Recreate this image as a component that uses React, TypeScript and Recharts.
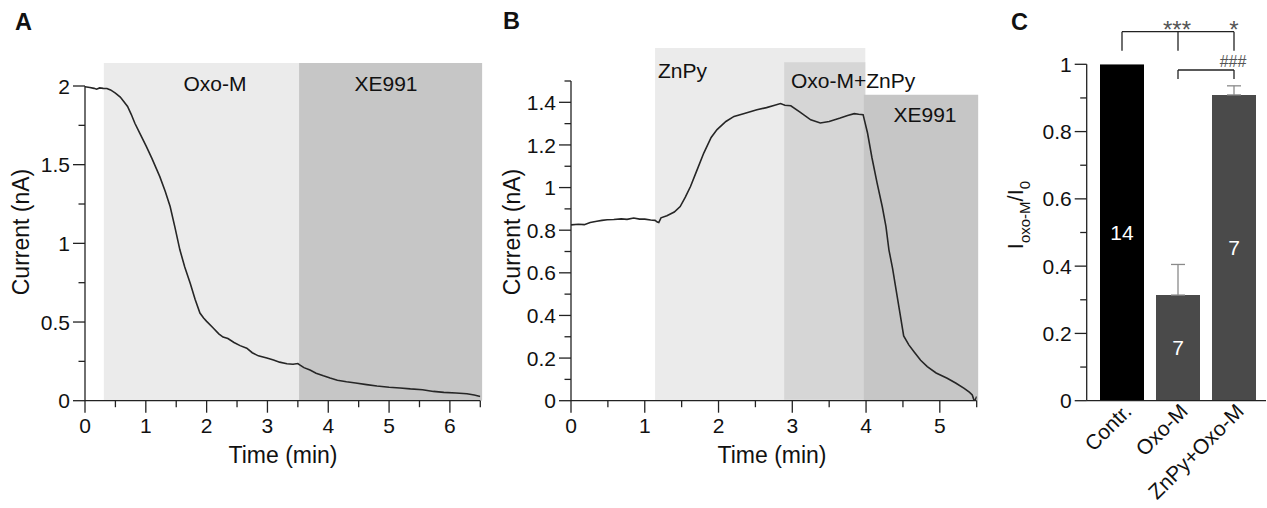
import React from "react";
import {
  LineChart,
  Line,
  BarChart,
  Bar,
  Cell,
  ErrorBar,
  LabelList,
  XAxis,
  YAxis,
  ReferenceArea,
  ReferenceLine,
} from "recharts";

const FONT = "'Liberation Sans', Arial, Helvetica, sans-serif";
const INK = "#222";

// Panel A: Oxo-M then XE991
const timeA = [
  0, 0.08, 0.15, 0.19, 0.24, 0.3, 0.36, 0.42, 0.5, 0.58, 0.65, 0.7, 0.76, 0.82,
  0.9, 1.01, 1.1, 1.23, 1.32, 1.4, 1.48, 1.56, 1.64, 1.73, 1.81, 1.89, 1.95, 2.0,
  2.1, 2.2, 2.27, 2.35, 2.45, 2.55, 2.66, 2.75, 2.85, 2.99, 3.1, 3.2, 3.32, 3.42,
  3.5, 3.53, 3.6, 3.7, 3.8, 3.92, 4.03, 4.15, 4.3, 4.45, 4.63, 4.8, 5.0, 5.18,
  5.35, 5.55, 5.73, 5.9, 6.1, 6.28, 6.4, 6.5,
];
const currentA = [
  1.995, 1.99, 1.985, 1.98, 1.988, 1.985, 1.984, 1.975, 1.955, 1.93, 1.895,
  1.87, 1.82, 1.763, 1.7, 1.615, 1.54, 1.424, 1.33, 1.234, 1.1, 0.959, 0.85,
  0.747, 0.645, 0.557, 0.525, 0.504, 0.465, 0.425, 0.404, 0.395, 0.37, 0.35,
  0.334, 0.305, 0.285, 0.271, 0.258, 0.245, 0.235, 0.232, 0.236, 0.228, 0.21,
  0.195, 0.175, 0.158, 0.144, 0.13, 0.12, 0.112, 0.102, 0.093, 0.085, 0.081,
  0.075, 0.07, 0.059, 0.053, 0.049, 0.044, 0.036, 0.027,
];

// Panel B: ZnPy, Oxo-M+ZnPy, XE991
const timeB = [
  0, 0.1, 0.18, 0.26, 0.35, 0.42, 0.49, 0.58, 0.68, 0.76, 0.85, 0.93, 1.0, 1.08,
  1.14, 1.17, 1.19, 1.22, 1.3, 1.4, 1.48, 1.55, 1.62, 1.7, 1.8, 1.9, 1.98, 2.1,
  2.21, 2.35, 2.52, 2.65, 2.75, 2.84, 2.9, 2.98, 3.1, 3.25, 3.38, 3.5, 3.65,
  3.75, 3.84, 3.9, 3.96, 4.02, 4.08, 4.15, 4.22, 4.27, 4.31, 4.36, 4.4, 4.46,
  4.51, 4.58, 4.65, 4.74, 4.83, 4.95, 5.1, 5.22, 5.33, 5.4, 5.44, 5.47, 5.5,
];
const currentB = [
  0.825, 0.828, 0.826, 0.836, 0.842, 0.846, 0.849, 0.85, 0.853, 0.851, 0.857,
  0.852, 0.852, 0.848, 0.846, 0.838, 0.836, 0.858, 0.868, 0.885, 0.911, 0.955,
  1.005, 1.075, 1.162, 1.235, 1.272, 1.31, 1.334, 1.348, 1.365, 1.375, 1.385,
  1.394, 1.386, 1.384, 1.355, 1.318, 1.303, 1.31, 1.326, 1.338, 1.347, 1.344,
  1.342, 1.256, 1.14, 1.021, 0.91, 0.817, 0.708, 0.62, 0.535, 0.41, 0.304,
  0.262, 0.23, 0.19, 0.16, 0.13, 0.105, 0.082, 0.058, 0.04, 0.027, -0.005, 0.02,
];

// Panel C: normalised current
const groups = ["Contr.", "Oxo-M", "ZnPy+Oxo-M"];
const ratios = [1.0, 0.314, 0.909];
const sems = [null, 0.091, 0.027];
const cellCounts = [14, 7, 7];
const barColors = ["#000000", "#4a4a4a", "#4a4a4a"];

// ticks
const xTicksA = [0, 0.5, 1, 1.5, 2, 2.5, 3, 3.5, 4, 4.5, 5, 5.5, 6, 6.5];
const yTicksA = [0, 0.25, 0.5, 0.75, 1, 1.25, 1.5, 1.75, 2];
const xTicksB = [0, 0.5, 1, 1.5, 2, 2.5, 3, 3.5, 4, 4.5, 5, 5.5];
const yTicksB = [0, 0.1, 0.2, 0.3, 0.4, 0.5, 0.6, 0.7, 0.8, 0.9, 1, 1.1, 1.2, 1.3, 1.4, 1.5];
const yTicksC = [0, 0.1, 0.2, 0.3, 0.4, 0.5, 0.6, 0.7, 0.8, 0.9, 1];

const dataA = timeA.map((t, i) => ({ t, v: currentA[i] }));
const dataB = timeB.map((t, i) => ({ t, v: currentB[i] }));
const dataC = groups.map((name, i) => ({
  name,
  mean: ratios[i],
  err: sems[i] == null ? null : [0, sems[i]],
  n: cellCounts[i],
}));

const near = (a: number, b: number) => Math.abs(a - b) < 1e-6;

const makeXTick = (isMajor: (v: number) => boolean) => (props: any) => {
  const { x, y, payload } = props;
  const v = payload.value;
  const major = isMajor(v);
  return (
    <g>
      <line x1={x} y1={y} x2={x} y2={y + (major ? 12 : 6.5)} stroke={INK} strokeWidth={1.3} />
      {major && (
        <text x={x} y={y + 32} textAnchor="middle" fontSize={21} fontFamily={FONT} fill="#111">
          {v}
        </text>
      )}
    </g>
  );
};

const makeYTick = (isMajor: (v: number) => boolean) => (props: any) => {
  const { x, y, payload } = props;
  const v = payload.value;
  const major = isMajor(v);
  return (
    <g>
      <line x1={x} y1={y} x2={x - (major ? 12 : 6.5)} y2={y} stroke={INK} strokeWidth={1.3} />
      {major && (
        <text x={x - 15} y={y} dy="0.36em" textAnchor="end" fontSize={21} fontFamily={FONT} fill="#111">
          {v}
        </text>
      )}
    </g>
  );
};

const intMajor = (v: number) => near(v, Math.round(v));
const halfMajor = (v: number) => near(v * 2, Math.round(v * 2));
const fifthMajor = (v: number) => near(v * 5, Math.round(v * 5));

const CatTick = (props: any) => {
  const { x, y, payload } = props;
  return (
    <text
      transform={`translate(${x + 11},${y + 12}) rotate(-45)`}
      textAnchor="end"
      fontSize={21}
      fontFamily={FONT}
      fill="#111"
    >
      {payload.value}
    </text>
  );
};

const axisLine = { stroke: INK, strokeWidth: 1.3 };

function PanelA() {
  return (
    <LineChart width={500} height={508} data={dataA} margin={{ top: 86, right: 19.7, bottom: 47.3, left: 0 }}>
      <ReferenceArea x1={0.31} x2={3.52} y1={0} y2={2.146} fill="#ebebeb" fillOpacity={1} stroke="none" ifOverflow="visible" />
      <ReferenceArea x1={3.52} x2={6.53} y1={0} y2={2.146} fill="#c6c6c6" fillOpacity={1} stroke="none" ifOverflow="visible" />
      <XAxis
        dataKey="t"
        type="number"
        domain={[0, 6.5]}
        ticks={xTicksA}
        interval={0}
        allowDataOverflow
        height={60}
        tickSize={0}
        tickMargin={0}
        tickLine={false}
        axisLine={axisLine}
        tick={makeXTick(intMajor)}
      />
      <YAxis
        type="number"
        domain={[0, 2]}
        ticks={yTicksA}
        interval={0}
        allowDataOverflow
        width={85}
        tickSize={0}
        tickMargin={0}
        tickLine={false}
        axisLine={axisLine}
        tick={makeYTick(halfMajor)}
      />
      <Line dataKey="v" type="linear" stroke="#262626" strokeWidth={1.6} dot={false} isAnimationActive={false} />
    </LineChart>
  );
}

function PanelB() {
  return (
    <LineChart width={500} height={508} data={dataB} margin={{ top: 81, right: 13.3, bottom: 47.3, left: 0 }}>
      <ReferenceArea x1={1.14} x2={3.99} y1={0} y2={1.655} fill="#ebebeb" fillOpacity={1} stroke="none" ifOverflow="visible" />
      <ReferenceArea x1={2.89} x2={3.99} y1={0.005} y2={1.588} fill="#d6d6d6" fillOpacity={1} stroke="none" ifOverflow="visible" />
      <ReferenceArea x1={3.97} x2={5.52} y1={0} y2={1.436} fill="#c6c6c6" fillOpacity={1} stroke="none" ifOverflow="visible" />
      <XAxis
        dataKey="t"
        type="number"
        domain={[0, 5.5]}
        ticks={xTicksB}
        interval={0}
        allowDataOverflow
        height={60}
        tickSize={0}
        tickMargin={0}
        tickLine={false}
        axisLine={axisLine}
        tick={makeXTick(intMajor)}
      />
      <YAxis
        type="number"
        domain={[0, 1.5]}
        ticks={yTicksB}
        interval={0}
        allowDataOverflow
        width={81}
        tickSize={0}
        tickMargin={0}
        tickLine={false}
        axisLine={axisLine}
        tick={makeYTick((v) => fifthMajor(v) && v < 1.45)}
      />
      <Line dataKey="v" type="linear" stroke="#262626" strokeWidth={1.6} dot={false} isAnimationActive={false} />
    </LineChart>
  );
}

function PanelC() {
  const bracket = { stroke: INK, strokeWidth: 1.3, ifOverflow: "visible" as const };
  return (
    <BarChart width={277} height={508} data={dataC} margin={{ top: 64.3, right: 1, bottom: 47.3, left: 0 }}>
      <XAxis
        dataKey="name"
        type="category"
        padding={{ left: 7.3, right: 4 }}
        interval={0}
        height={60}
        tickSize={0}
        tickMargin={0}
        tickLine={false}
        axisLine={axisLine}
        tick={CatTick}
      />
      <YAxis
        type="number"
        domain={[0, 1]}
        ticks={yTicksC}
        interval={0}
        allowDataOverflow
        width={96.7}
        tickSize={0}
        tickMargin={0}
        tickLine={false}
        axisLine={axisLine}
        tick={makeYTick(fifthMajor)}
      />
      <Bar dataKey="mean" barSize={44} isAnimationActive={false}>
        {dataC.map((d, i) => (
          <Cell key={d.name} fill={barColors[i]} />
        ))}
        <ErrorBar dataKey="err" width={7} stroke="#8a8a8a" strokeWidth={1.3} direction="y" />
        <LabelList dataKey="n" position="center" fill="#ffffff" fontSize={21} fontFamily={FONT} />
      </Bar>
      <ReferenceLine segment={[{ x: groups[0], y: 1.097 }, { x: groups[2], y: 1.097 }]} {...bracket} />
      <ReferenceLine segment={[{ x: groups[0], y: 1.04 }, { x: groups[0], y: 1.097 }]} {...bracket} />
      <ReferenceLine segment={[{ x: groups[1], y: 1.04 }, { x: groups[1], y: 1.097 }]} {...bracket} />
      <ReferenceLine segment={[{ x: groups[2], y: 1.04 }, { x: groups[2], y: 1.097 }]} {...bracket} />
      <ReferenceLine segment={[{ x: groups[1], y: 0.983 }, { x: groups[2], y: 0.983 }]} {...bracket} />
      <ReferenceLine segment={[{ x: groups[1], y: 0.956 }, { x: groups[1], y: 0.983 }]} {...bracket} />
      <ReferenceLine segment={[{ x: groups[2], y: 0.956 }, { x: groups[2], y: 0.983 }]} {...bracket} />
    </BarChart>
  );
}

function Annotations() {
  const t = { fontFamily: FONT, fill: "#111" };
  const sig = { fontFamily: FONT, fill: "#555555", textAnchor: "middle" as const };
  return (
    <svg width={1267} height={508} style={{ position: "absolute", left: 0, top: 0, pointerEvents: "none" }}>
      <text x={15} y={30} fontSize={23.5} fontWeight="bold" {...t}>A</text>
      <text x={503} y={29} fontSize={23.5} fontWeight="bold" {...t}>B</text>
      <text x={1011} y={30} fontSize={23.5} fontWeight="bold" {...t}>C</text>

      <text x={215} y={91} fontSize={21} textAnchor="middle" {...t}>Oxo-M</text>
      <text x={386} y={91} fontSize={21} textAnchor="middle" {...t}>XE991</text>
      <text x={658} y={78} fontSize={21} {...t}>ZnPy</text>
      <text x={791} y={88} fontSize={21} {...t}>Oxo-M+ZnPy</text>
      <text x={925} y={122} fontSize={21} textAnchor="middle" {...t}>XE991</text>

      <text x={283} y={463} fontSize={23} textAnchor="middle" {...t}>Time (min)</text>
      <text x={772} y={463} fontSize={23} textAnchor="middle" {...t}>Time (min)</text>
      <text transform="translate(29,232) rotate(-90)" fontSize={23} textAnchor="middle" {...t}>Current (nA)</text>
      <text transform="translate(520,232) rotate(-90)" fontSize={23} textAnchor="middle" {...t}>Current (nA)</text>
      <text transform="translate(1023,215) rotate(-90)" fontSize={22} textAnchor="middle" {...t}>
        I<tspan fontSize={15} dy={7}>oxo-M</tspan>
        <tspan dy={-7}>/I</tspan>
        <tspan fontSize={15} dy={7}>0</tspan>
      </text>

      <text x={1177} y={38} fontSize={24} {...sig}>***</text>
      <text x={1234} y={38} fontSize={24} {...sig}>*</text>
      <text x={1233} y={67} fontSize={16} {...sig}>###</text>
    </svg>
  );
}

export default function App() {
  return (
    <div style={{ position: "absolute", left: 0, top: 0, width: 1267, height: 508, background: "#fff" }}>
      <div style={{ position: "absolute", left: 0, top: 0 }}>
        <PanelA />
      </div>
      <div style={{ position: "absolute", left: 490, top: 0 }}>
        <PanelB />
      </div>
      <div style={{ position: "absolute", left: 990, top: 0 }}>
        <PanelC />
      </div>
      <Annotations />
    </div>
  );
}
